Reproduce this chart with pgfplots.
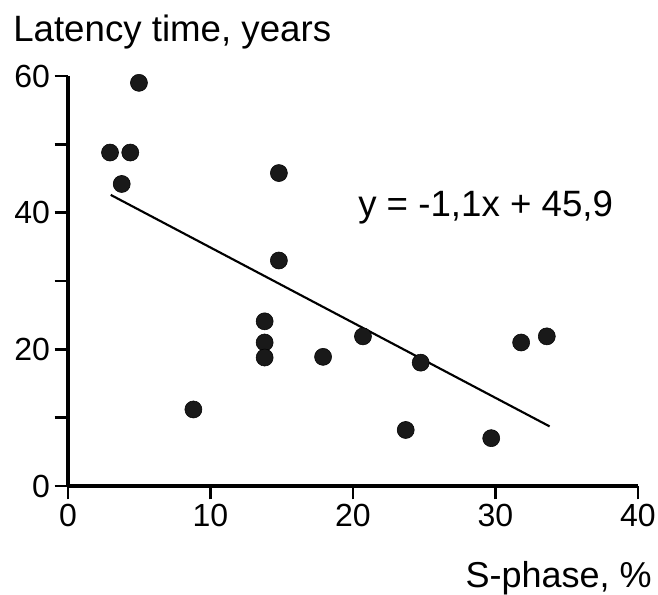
\documentclass[border=0pt]{standalone}
\usepackage{fontspec}
\setmainfont{Liberation Sans}
\usepackage{pgfplots}
\pgfplotsset{compat=1.18}
\begin{document}
\begin{tikzpicture}
\begin{axis}[
  name=ax,
  scale only axis,
  width=427.5pt, height=307.5pt,
  xmin=0, xmax=40, ymin=0, ymax=60,
  axis lines*=left,
  axis line style={line width=2.4pt, -},
  xtick={0,10,20,30,40},
  ytick={0,20,40,60},
  minor ytick={10,30,50},
  tick align=outside,
  major tick length=10pt,
  minor tick length=10pt,
  major tick style={black, line width=2.2pt},
  minor tick style={black, line width=2.2pt},
  /pgf/number format/assume math mode=true,
  ticklabel style={font=\fontsize{24}{28}\selectfont},
  clip=false,
]
\addplot[only marks, mark=*, mark size=6.4pt, black, fill=black!90] coordinates {
(4.98,59.0) (2.95,48.8) (4.37,48.8) (3.77,44.2) (14.8,45.8) (14.8,33.0)
(13.8,24.1) (13.8,21.0) (13.8,18.8) (17.9,18.9) (8.8,11.2) (20.7,21.9)
(24.75,18.05) (31.8,21.0) (33.6,21.9) (23.7,8.2) (29.7,7.0)
};
\addplot[black, line width=1.6pt] coordinates {(3.0,42.6) (33.8,8.72)};
\node[anchor=base west, inner sep=0pt, font=\fontsize{27.5}{32}\selectfont] at (axis cs:20.35,39.4) {y = -1,1x + 45,9};
\end{axis}
\node[anchor=base west, inner sep=0pt, font=\fontsize{27.5}{32}\selectfont] at ([shift={(-41.25pt,333pt)}]ax.south west) {Latency time, years};
\node[anchor=base west, inner sep=0pt, font=\fontsize{27}{32}\selectfont] at ([shift={(298pt,-75.75pt)}]ax.south west) {S-phase, \%};
\pgfresetboundingbox
\path[use as bounding box] ([shift={(-51pt,-81pt)}]ax.south west) rectangle ([shift={(442.5pt,364.5pt)}]ax.south west);
\end{tikzpicture}
\end{document}
